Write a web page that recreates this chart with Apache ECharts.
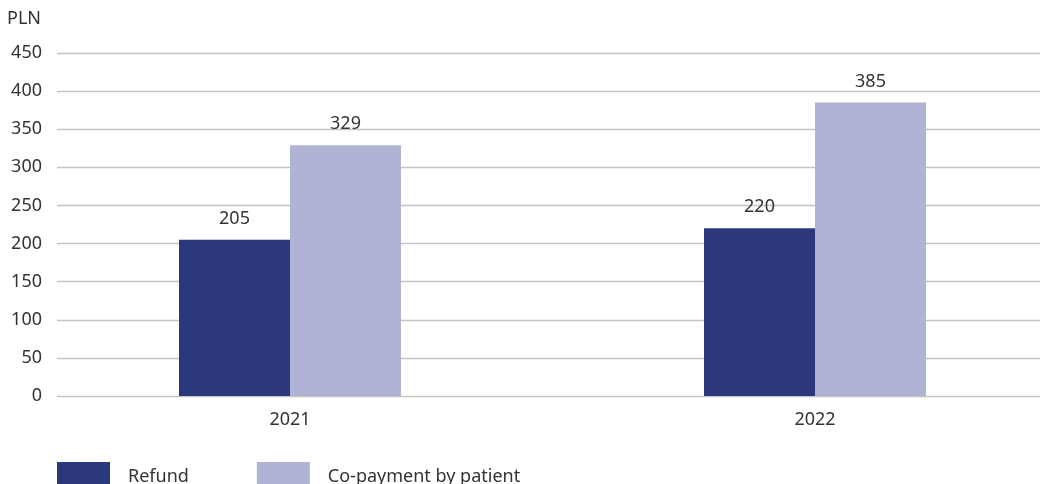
<!DOCTYPE html>
<html>
<head>
<meta charset="utf-8">
<script src="https://cdn.jsdelivr.net/npm/echarts@6/dist/echarts.min.js"></script>
<style>html,body{margin:0;padding:0;background:#fff;}#c{width:1040px;height:484px;}</style>
</head>
<body>
<div id="c"></div>
<script>
const categories = ['2021', '2022'];
const refund = [205, 220];
const copayment = [329, 385];
const seriesNames = ['Refund', 'Co-payment by patient'];
const unitLabel = 'PLN';

const FONT = '"Noto Sans", "Open Sans", sans-serif';
const TXT = '#333333';
const FS = 18;
const chart = echarts.init(document.getElementById('c'));
chart.setOption({
  animation: false,
  textStyle: { fontFamily: FONT },
  graphic: [{ type: 'text', left: 7, top: 10, style: { text: unitLabel, font: FS + 'px ' + FONT, fill: TXT } }],
  grid: [
    { left: 57, right: 0, top: 53, bottom: 88 },
    { left: 290, right: 225, top: 53, bottom: 88 }
  ],
  xAxis: [
    { gridIndex: 0, type: 'value', show: false },
    { gridIndex: 1, type: 'category', data: categories, boundaryGap: false,
      axisLine: { show: false }, axisTick: { show: false },
      axisLabel: { color: TXT, fontSize: FS, margin: 15, fontFamily: FONT } }
  ],
  yAxis: [
    { gridIndex: 0, type: 'value', min: 0, max: 450, interval: 50,
      axisLine: { show: false }, axisTick: { show: false },
      axisLabel: { color: TXT, fontSize: FS, margin: 15, fontFamily: FONT },
      splitLine: { lineStyle: { color: '#c4c4c4', width: 1.3 } } },
    { gridIndex: 1, type: 'value', min: 0, max: 450, interval: 50, show: false,
      splitLine: { show: false } }
  ],
  legend: {
    left: 52, top: 457, itemWidth: 53, itemHeight: 30, itemGap: 68,
    icon: 'rect',
    textStyle: { color: TXT, fontSize: FS, fontFamily: FONT, padding: [0, 0, 0, 13] },
    data: seriesNames
  },
  series: [
    { name: seriesNames[0], type: 'bar', xAxisIndex: 1, yAxisIndex: 1, data: refund, clip: false,
      barWidth: 111, barGap: '0%', itemStyle: { color: '#2b3879' },
      label: { show: true, position: 'top', distance: 12, color: TXT, fontSize: FS, fontFamily: FONT } },
    { name: seriesNames[1], type: 'bar', xAxisIndex: 1, yAxisIndex: 1, data: copayment, clip: false,
      barWidth: 111, barGap: '0%', itemStyle: { color: '#b1b3d5' },
      label: { show: true, position: 'top', distance: 12, color: TXT, fontSize: FS, fontFamily: FONT } }
  ]
});
</script>
</body>
</html>
